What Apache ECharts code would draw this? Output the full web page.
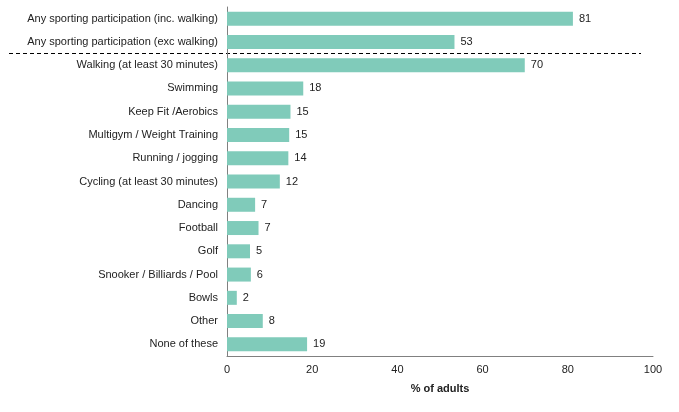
<!DOCTYPE html>
<html><head><meta charset="utf-8">
<script src="https://cdn.jsdelivr.net/npm/echarts@6/dist/echarts.min.js"></script>
<style>html,body{margin:0;padding:0;background:#fff}#c{width:679px;height:412px}</style>
</head><body><div id="c"></div>
<script>
var categories = [
  "Any sporting participation (inc. walking)",
  "Any sporting participation (exc walking)",
  "Walking (at least 30 minutes)",
  "Swimming",
  "Keep Fit /Aerobics",
  "Multigym / Weight Training",
  "Running / jogging",
  "Cycling (at least 30 minutes)",
  "Dancing",
  "Football",
  "Golf",
  "Snooker / Billiards / Pool",
  "Bowls",
  "Other",
  "None of these"
];
var values = [81.2, 53.4, 69.9, 17.9, 14.9, 14.6, 14.4, 12.4, 6.6, 7.4, 5.4, 5.6, 2.3, 8.4, 18.8];
var xTicks = [0, 20, 40, 60, 80, 100];

var chart = echarts.init(document.getElementById('c'), null, {renderer: 'canvas'});
var font = 'Liberation Sans, Arial, sans-serif';
chart.setOption({
  animation: false,
  grid: {left: 227, top: 7, right: 26, bottom: 56, containLabel: false},
  xAxis: {
    type: 'value', min: xTicks[0], max: xTicks[xTicks.length - 1], interval: 20,
    name: '% of adults', nameLocation: 'middle', nameGap: 27,
    nameTextStyle: {fontFamily: font, fontSize: 11, fontWeight: 'bold', color: '#222'},
    axisLine: {show: true, lineStyle: {color: '#808080', width: 1}},
    axisTick: {show: false},
    splitLine: {show: false},
    axisLabel: {fontFamily: font, fontSize: 11, color: '#222', margin: 8}
  },
  yAxis: {
    type: 'category', data: categories, inverse: true,
    axisLine: {show: true, lineStyle: {color: '#808080', width: 1}},
    axisTick: {show: false},
    axisLabel: {fontFamily: font, fontSize: 11, color: '#222', margin: 9}
  },
  series: [{
    type: 'bar', data: values, barWidth: 14,
    itemStyle: {color: '#80cbba'},
    label: {show: true, position: 'right', distance: 6, fontFamily: font, fontSize: 11, color: '#222',
      formatter: function (p) { return Math.round(p.value); }}
  }]
});

var y1 = chart.convertToPixel({yAxisIndex: 0}, categories[1]);
var y2 = chart.convertToPixel({yAxisIndex: 0}, categories[2]);
var ym = Math.floor((y1 + y2) / 2) + 0.5;
chart.setOption({
  graphic: [{
    type: 'line', silent: true,
    shape: {x1: 9, y1: ym, x2: 641, y2: ym},
    style: {stroke: '#000', lineWidth: 1, lineDash: [4, 3]}
  }]
});
</script></body></html>
